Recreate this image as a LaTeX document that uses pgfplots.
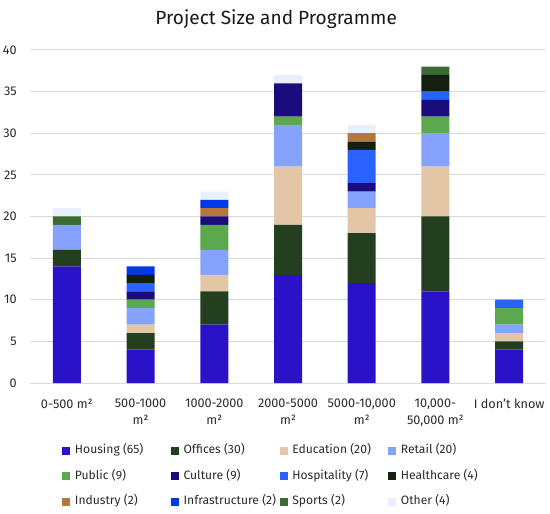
\documentclass[border=0pt]{standalone}
\usepackage{pgfplots}
\pgfplotsset{compat=1.18}
\usepackage{pgfplotstable}
\usepackage{fontspec}
\setmainfont{Fira Sans}
\definecolor{cHousing}{HTML}{2A12C8}
\definecolor{cOffices}{HTML}{233F1F}
\definecolor{cEducation}{HTML}{E3C6A6}
\definecolor{cRetail}{HTML}{85A2FD}
\definecolor{cPublic}{HTML}{5BA84F}
\definecolor{cCulture}{HTML}{1B0C7E}
\definecolor{cHospitality}{HTML}{2962FF}
\definecolor{cHealthcare}{HTML}{14200F}
\definecolor{cIndustry}{HTML}{B5773C}
\definecolor{cInfrastructure}{HTML}{0039E6}
\definecolor{cSports}{HTML}{3A6B33}
\definecolor{cOther}{HTML}{E9EFFC}
\definecolor{gridc}{HTML}{D9D9D9}
\definecolor{txt}{HTML}{2B2B2B}
\pgfplotstableread{
x Housing Offices Education Retail Public Culture Hospitality Healthcare Industry Infrastructure Sports Other
0 14 2 0 3 0 0 0 0 0 0 1 1
1 4 2 1 2 1 1 1 1 0 1 0 0
2 7 4 2 3 3 1 0 0 1 1 0 1
3 13 6 7 5 1 4 0 0 0 0 0 1
4 12 6 3 2 0 1 4 1 1 0 0 1
5 11 9 6 4 2 2 1 2 0 0 1 0
6 4 1 1 1 2 0 1 0 0 0 0 0
}\data
\newcommand{\lent}[1]{\makebox[72pt][l]{#1}}
\begin{document}
\begin{tikzpicture}
\path[use as bounding box] (-22.5pt,-98.25pt) rectangle (390pt,287.25pt);
\begin{axis}[
  scale only axis,
  width=387pt, height=249.75pt,
  ybar stacked, bar width=21pt,
  xmin=-0.5, xmax=6.5, ymin=0, ymax=40,
  ytick={0,5,...,40},
  xtick={0,...,6},
  xticklabels={{0-500 m²},{500-1000\\m²},{1000-2000\\m²},{2000-5000\\m²},{5000-10,000\\m²},{10,000-\\50,000 m²},{I don't know}},
  axis line style={draw=none},
  major tick length=0pt,
  ymajorgrids, major grid style={gridc, line width=0.75pt},
  /pgf/number format/assume math mode=true,
  tick label style={font=\fontsize{9.5}{13}\selectfont, text=txt},
  yticklabel style={inner sep=0pt, anchor=east, xshift=-9.75pt},
  xticklabel style={inner sep=0pt, anchor=north, align=center, yshift=-11.5pt},
  title={Project Size and Programme},
  title style={at={(0.477,1.054)}, anchor=base, yshift=0pt, font=\fontsize{14.3}{17}\selectfont, text=black!90},
  legend columns=4,
  legend image code/.code={\fill[#1] (0pt,-3pt) rectangle (6pt,3pt);},
  legend style={draw=none, fill=none, at={(0.062,-0.184)}, anchor=north west,
    font=\fontsize{9.1}{11}\selectfont, text=txt,
    inner sep=0pt, row sep=9.5pt,
    nodes={inner sep=0pt, text height=7pt, text depth=2.5pt},
    /tikz/every odd column/.append style={column sep=3.5pt}},
  legend cell align=left,
]
\addplot[fill=cHousing, draw=none] table[x=x,y=Housing]{\data};
\addlegendentry{\lent{Housing (65)}}
\addplot[fill=cOffices, draw=none] table[x=x,y=Offices]{\data};
\addlegendentry{\lent{Offices (30)}}
\addplot[fill=cEducation, draw=none] table[x=x,y=Education]{\data};
\addlegendentry{\lent{Education (20)}}
\addplot[fill=cRetail, draw=none] table[x=x,y=Retail]{\data};
\addlegendentry{\lent{Retail (20)}}
\addplot[fill=cPublic, draw=none] table[x=x,y=Public]{\data};
\addlegendentry{\lent{Public (9)}}
\addplot[fill=cCulture, draw=none] table[x=x,y=Culture]{\data};
\addlegendentry{\lent{Culture (9)}}
\addplot[fill=cHospitality, draw=none] table[x=x,y=Hospitality]{\data};
\addlegendentry{\lent{Hospitality (7)}}
\addplot[fill=cHealthcare, draw=none] table[x=x,y=Healthcare]{\data};
\addlegendentry{\lent{Healthcare (4)}}
\addplot[fill=cIndustry, draw=none] table[x=x,y=Industry]{\data};
\addlegendentry{\lent{Industry (2)}}
\addplot[fill=cInfrastructure, draw=none] table[x=x,y=Infrastructure]{\data};
\addlegendentry{\lent{Infrastructure (2)}}
\addplot[fill=cSports, draw=none] table[x=x,y=Sports]{\data};
\addlegendentry{\lent{Sports (2)}}
\addplot[fill=cOther, draw=none] table[x=x,y=Other]{\data};
\addlegendentry{\lent{Other (4)}}
\end{axis}
\end{tikzpicture}
\end{document}
